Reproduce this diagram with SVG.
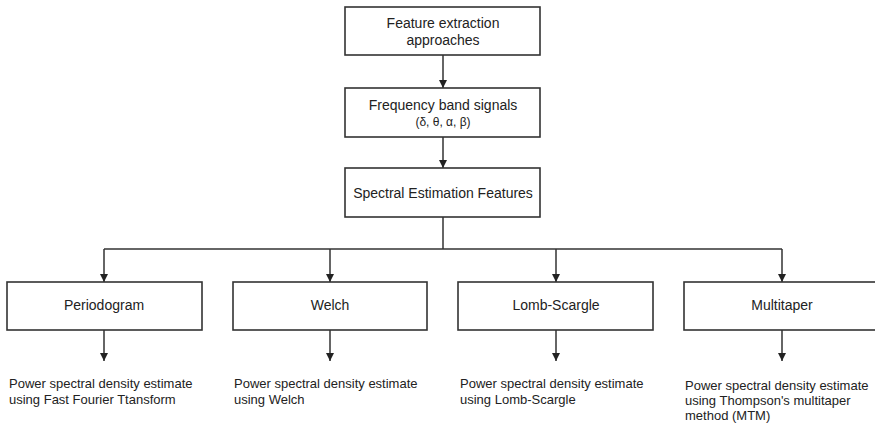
<svg xmlns="http://www.w3.org/2000/svg" width="875" height="424" viewBox="0 0 875 424">
<style>
.box{fill:#fff;stroke:#333;stroke-width:1.6}
.t{font-family:"Liberation Sans",Arial,sans-serif;font-size:14px;fill:#222;text-anchor:middle;dominant-baseline:central}
.s{font-family:"Liberation Sans",Arial,sans-serif;font-size:13px;fill:#222}
.c{fill:none;stroke:#333;stroke-width:1.5}
</style>
<defs>
<marker id="ah" markerWidth="8" markerHeight="8" refX="8" refY="4" orient="auto" markerUnits="userSpaceOnUse">
<path d="M0,0 L8,4 L0,8 Z" fill="#222"/>
</marker>
</defs>
<rect width="875" height="424" fill="#fff"/>
<g id="connectors">
<path class="c" d="M443,55 V88" marker-end="url(#ah)"/>
<path class="c" d="M443,137 V168" marker-end="url(#ah)"/>
<path class="c" d="M443,217 V249"/>
<path class="c" d="M104,249 H782"/>
<path class="c" d="M104,249 V282" marker-end="url(#ah)"/>
<path class="c" d="M330,249 V282" marker-end="url(#ah)"/>
<path class="c" d="M556,249 V282" marker-end="url(#ah)"/>
<path class="c" d="M782,249 V282" marker-end="url(#ah)"/>
<path class="c" d="M104,330 V361" marker-end="url(#ah)"/>
<path class="c" d="M330,330 V361" marker-end="url(#ah)"/>
<path class="c" d="M556,330 V361" marker-end="url(#ah)"/>
<path class="c" d="M782,330 V361" marker-end="url(#ah)"/>
</g>
<g id="feature-extraction">
<rect class="box" x="345" y="7" width="195" height="48"/>
<text class="t" x="443" y="23">Feature extraction</text>
<text class="t" x="443" y="40">approaches</text>
</g>
<g id="frequency-bands">
<rect class="box" x="345" y="88" width="195" height="49"/>
<text class="t" x="443" y="105">Frequency band signals</text>
<text class="t" x="443" y="122" style="font-size:12px">(δ, θ, α, β)</text>
</g>
<g id="spectral-estimation">
<rect class="box" x="345" y="168" width="195" height="49"/>
<text class="t" x="443" y="193">Spectral Estimation Features</text>
</g>
<g id="periodogram">
<rect class="box" x="7" y="282" width="195" height="48"/>
<text class="t" x="104" y="305">Periodogram</text>
</g>
<g id="welch">
<rect class="box" x="233" y="282" width="194" height="48"/>
<text class="t" x="330" y="305">Welch</text>
</g>
<g id="lomb-scargle">
<rect class="box" x="458" y="282" width="195" height="48"/>
<text class="t" x="556" y="305">Lomb-Scargle</text>
</g>
<g id="multitaper">
<rect class="box" x="684" y="282" width="195" height="48"/>
<text class="t" x="782" y="305">Multitaper</text>
</g>
<g id="out-periodogram">
<text class="s" x="9" y="388">Power spectral density estimate</text>
<text class="s" x="9" y="404">using Fast Fourier Ttansform</text>
</g>
<g id="out-welch">
<text class="s" x="234" y="388">Power spectral density estimate</text>
<text class="s" x="234" y="404">using Welch</text>
</g>
<g id="out-lomb">
<text class="s" x="460" y="388">Power spectral density estimate</text>
<text class="s" x="460" y="404">using Lomb-Scargle</text>
</g>
<g id="out-multitaper">
<text class="s" x="685" y="390">Power spectral density estimate</text>
<text class="s" x="685" y="405">using Thompson's multitaper</text>
<text class="s" x="685" y="420">method (MTM)</text>
</g>
</svg>
